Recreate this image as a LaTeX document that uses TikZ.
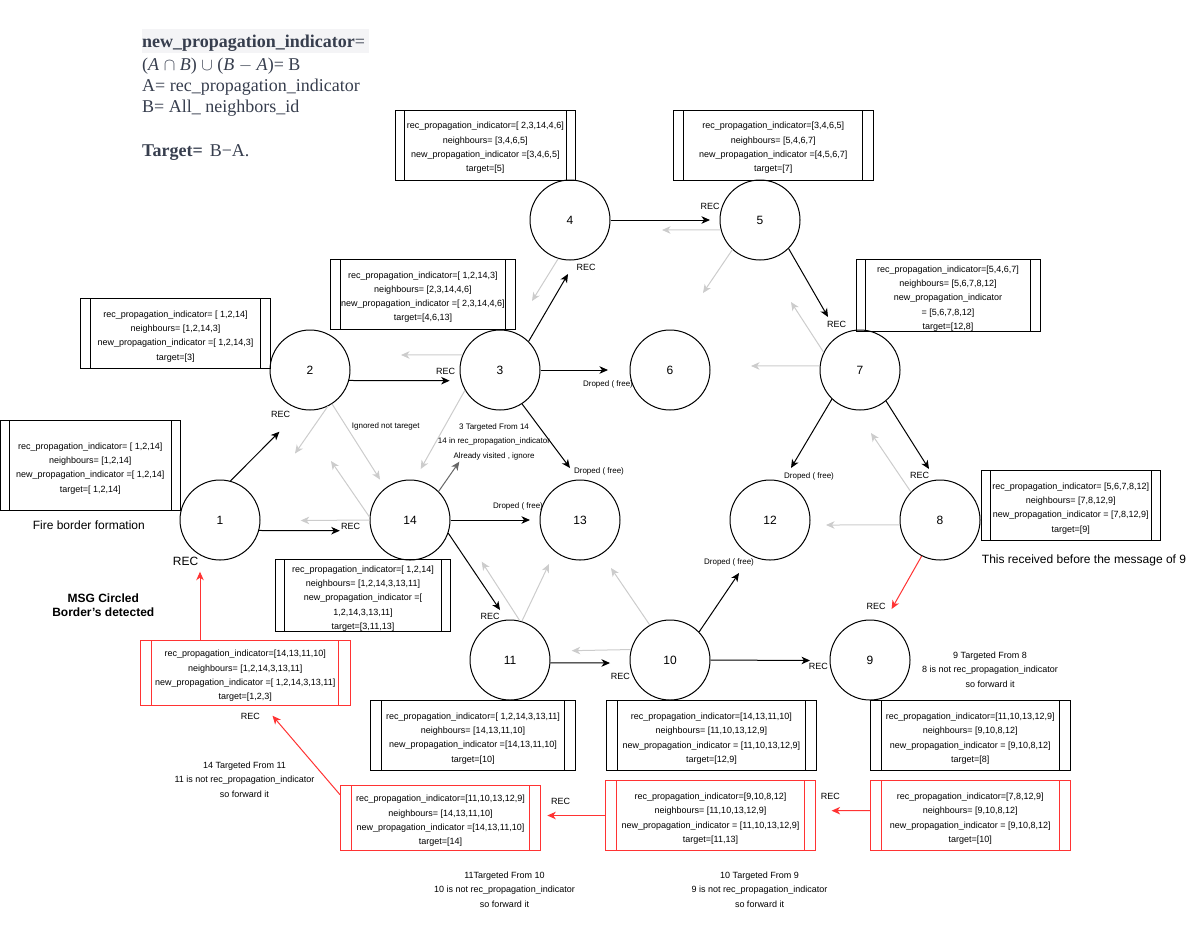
\documentclass[tikz,border=0pt]{standalone}
\usepackage{fontspec}
\setmainfont{Liberation Sans}
\newfontfamily\serifx{Liberation Serif}
\usetikzlibrary{arrows.meta,calc}

\definecolor{redx}{RGB}{255,51,51}
\definecolor{lgray}{RGB}{204,204,204}
\definecolor{dgray}{RGB}{102,102,102}
\definecolor{formc}{RGB}{55,62,78}
\definecolor{formbg}{RGB}{244,244,246}

% centred block of lines for the state boxes, set slightly low in its box
\newcommand\bt[1]{\raisebox{-2.5pt}[\height][\depth]{\begin{tabular}{@{}c@{}}#1\end{tabular}}}

\begin{document}
\begin{tikzpicture}[x=1pt,y=-1pt,
  circ/.style={circle,draw,line width=1pt,minimum size=80pt,inner sep=0pt,font=\fontsize{12}{14}\selectfont},
  procbox/.style={draw=#1,line width=1pt,inner sep=0pt,font=\fontsize{9}{14.3}\selectfont,
    path picture={
      \draw[#1,line width=1pt]
        ($(path picture bounding box.north west)!0.053!(path picture bounding box.north east)$) --
        ($(path picture bounding box.south west)!0.053!(path picture bounding box.south east)$)
        ($(path picture bounding box.north west)!0.947!(path picture bounding box.north east)$) --
        ($(path picture bounding box.south west)!0.947!(path picture bounding box.south east)$);}},
  procbox/.default=black,
  sz/.style 2 args={minimum width=#1pt,minimum height=#2pt},
  arr/.style={line width=1pt,-{Stealth[length=8.5pt,width=7.5pt,inset=2.5pt]}},
  blk/.style={arr,draw=black},
  gry/.style={arr,draw=lgray},
  dgr/.style={arr,draw=dgray},
  rdd/.style={arr,draw=redx},
  rec/.style={inner sep=0pt,font=\fontsize{9}{11}\selectfont},
  drop/.style={inner sep=0pt,font=\fontsize{8}{10}\selectfont},
  smallnote/.style={inner sep=0pt,align=center,font=\fontsize{8}{14.7}\selectfont},
  note/.style={inner sep=0pt,align=center,font=\fontsize{9}{14.3}\selectfont},
  big/.style={inner sep=0pt,font=\fontsize{12}{14.6}\selectfont},
  form/.style={inner sep=0pt,anchor=base west,text=formc,font=\serifx\fontsize{18}{21.5}\selectfont}
]
\useasboundingbox (0,0) rectangle (1201,930);

% formula block
\fill[formbg] (141.7,29.3) rectangle (369,52.7);
\node[form] (f1) at (142,47.5) {{\bfseries new\_propagation\_indicator}=};
\node[form] (f2) at (142,70) {(\textit{A} $\cap$ \textit{B}) $\cup$ (\textit{B} $-$ \textit{A})= B};
\node[form] (f3) at (142,91.5) {A= rec\_propagation\_indicator};
\node[form] (f4) at (142,112.5) {B= All\_ neighbors\_id};
\node[form] (f5) at (142,156) {{\bfseries Target=}\hspace{7pt}B−A.};

% nodes of the network
\node[circ] (n1)  at (220,520) {1};
\node[circ] (n2)  at (310,370) {2};
\node[circ] (n3)  at (500,370) {3};
\node[circ] (n4)  at (570,220) {4};
\node[circ] (n5)  at (760,220) {5};
\node[circ] (n6)  at (670,370) {6};
\node[circ] (n7)  at (860,370) {7};
\node[circ] (n14) at (410,520) {14};
\node[circ] (n13) at (580,520) {13};
\node[circ] (n12) at (770,520) {12};
\node[circ] (n8)  at (940,520) {8};
\node[circ] (n11) at (510,660) {11};
\node[circ] (n10) at (670,660) {10};
\node[circ] (n9)  at (870,660) {9};

% state boxes
\node[procbox,sz={180.6}{89.3}] (b1) at (90.3,465.35)
  {\bt{rec\_propagation\_indicator= [ 1,2,14]\\neighbours= [1,2,14]\\new\_propagation\_indicator =[ 1,2,14]\\target=[ 1,2,14]}};
\node[procbox,sz={190.2}{70}] (b2) at (175.5,333.3)
  {\bt{rec\_propagation\_indicator= [ 1,2,14]\\neighbours= [1,2,14,3]\\new\_propagation\_indicator =[ 1,2,14,3]\\target=[3]}};
\node[procbox,sz={185.2}{69.7}] (b3) at (422.9,294.15)
  {\bt{rec\_propagation\_indicator=[ 1,2,14,3]\\neighbours= [2,3,14,4,6]\\new\_propagation\_indicator =[ 2,3,14,4,6]\\target=[4,6,13]}};
\node[procbox,sz={180.7}{70}] (b4) at (485.35,145)
  {\bt{rec\_propagation\_indicator=[ 2,3,14,4,6]\\neighbours= [3,4,6,5]\\new\_propagation\_indicator =[3,4,6,5]\\target=[5]}};
\node[procbox,sz={200}{70}] (b5) at (773.3,145)
  {\bt{rec\_propagation\_indicator=[3,4,6,5]\\neighbours= [5,4,6,7]\\new\_propagation\_indicator =[4,5,6,7]\\target=[7]}};
\node[procbox,sz={184}{69.3}] (b7) at (948,295.35)
  {\bt{rec\_propagation\_indicator=[5,4,6,7]\\neighbours= [5,6,7,8,12]\\new\_propagation\_indicator\\= [5,6,7,8,12]\\target=[12,8]}};
\node[procbox,sz={179.6}{69.3}] (b8) at (1070.8,505.35)
  {\bt{rec\_propagation\_indicator= [5,6,7,8,12]\\neighbours= [7,8,12,9]\\new\_propagation\_indicator = [7,8,12,9]\\target=[9]}};
\node[procbox,sz={174.9}{69.3}] (b14) at (362.95,595.35)
  {\bt{rec\_propagation\_indicator=[ 1,2,14]\\neighbours= [1,2,14,3,13,11]\\new\_propagation\_indicator =[\\1,2,14,3,13,11]\\target=[3,11,13]}};
\node[procbox=redx,sz={209.5}{64.6}] (rb1) at (245.25,673)
  {\bt{rec\_propagation\_indicator=[14,13,11,10]\\neighbours= [1,2,14,3,13,11]\\new\_propagation\_indicator =[ 1,2,14,3,13,11]\\target=[1,2,3]}};
\node[procbox,sz={205.1}{70}] (b11) at (473.05,735.3)
  {\bt{rec\_propagation\_indicator=[ 1,2,14,3,13,11]\\neighbours= [14,13,11,10]\\new\_propagation\_indicator =[14,13,11,10]\\target=[10]}};
\node[procbox,sz={210}{69.6}] (b10) at (711.4,735.5)
  {\bt{rec\_propagation\_indicator=[14,13,11,10]\\neighbours= [11,10,13,12,9]\\new\_propagation\_indicator = [11,10,13,12,9]\\target=[12,9]}};
\node[procbox,sz={199.4}{69.6}] (b9) at (970.3,735.5)
  {\bt{rec\_propagation\_indicator=[11,10,13,12,9]\\neighbours= [9,10,8,12]\\new\_propagation\_indicator = [9,10,8,12]\\target=[8]}};
\node[procbox=redx,sz={199.8}{65}] (rb14) at (440.5,817.8)
  {\bt{rec\_propagation\_indicator=[11,10,13,12,9]\\neighbours= [14,13,11,10]\\new\_propagation\_indicator =[14,13,11,10]\\target=[14]}};
\node[procbox=redx,sz={209.7}{69.6}] (rb1113) at (710.45,815.5)
  {\bt{rec\_propagation\_indicator=[9,10,8,12]\\neighbours= [11,10,13,12,9]\\new\_propagation\_indicator = [11,10,13,12,9]\\target=[11,13]}};
\node[procbox=redx,sz={199.4}{69.6}] (rb10) at (970.3,815.5)
  {\bt{rec\_propagation\_indicator=[7,8,12,9]\\neighbours= [9,10,8,12]\\new\_propagation\_indicator = [9,10,8,12]\\target=[10]}};

% free ends of the message arrows
\coordinate (e1) at (279.4,431.7);
\coordinate (e2) at (339.8,530.7);
\coordinate (e3) at (449.7,380.7);
\coordinate (e4) at (568,274);
\coordinate (e5) at (608,370);
\coordinate (e6) at (570,468);
\coordinate (e7) at (710,220);
\coordinate (e8) at (828,317);
\coordinate (e9) at (791,468);
\coordinate (e10) at (929,469);
\coordinate (e11) at (530,520);
\coordinate (e12) at (500,610);
\coordinate (e13) at (459.3,461.7);
\coordinate (e14) at (610,663);
\coordinate (e15) at (739,573);
\coordinate (e16) at (810,660.5);

\coordinate (g1) at (295,453.5);
\coordinate (g2) at (380,479.5);
\coordinate (g3) at (331,461);
\coordinate (g4) at (300.7,520.5);
\coordinate (g5) at (401,355);
\coordinate (g6) at (420.7,469);
\coordinate (g7) at (532,301);
\coordinate (g8) at (662,230);
\coordinate (g9) at (703,293);
\coordinate (g10) at (791,302);
\coordinate (g11) at (751,366);
\coordinate (g12) at (871,433);
\coordinate (g13) at (826,525);
\coordinate (g14) at (481.7,561.7);
\coordinate (g15) at (549,564);
\coordinate (g16) at (611,568);
\coordinate (g17) at (571.7,650.7);

\coordinate (r1) at (891.6,609);
\coordinate (r2) at (200,571.7);
\coordinate (r3) at (272.5,715.7);
\coordinate (r4) at (547.3,815.5);
\coordinate (r5) at (831.6,810.7);

% forwarded messages
\draw[blk] (n1.75) -- (e1);
\draw[blk] (n1.-15) -- (e2);
\draw[blk] (n2.-15) -- (e3);
\draw[blk] (n3.45) -- (e4);
\draw[blk] (n3.0) -- (e5);
\draw[blk] (n3.-57) -- (e6);
\draw[blk] (n4.0) -- (e7);
\draw[blk] (n5.-45) -- (e8);
\draw[blk] (n7.-134) -- (e9);
\draw[blk] (n7.-50) -- (e10);
\draw[blk] (n14.0) -- (e11);
\draw[blk] (n14.-19) -- (e12);
\draw[dgr] (n14.45) -- (e13);
\draw[blk] (n11.-4) -- (e14);
\draw[blk] (n10.44) -- (e15);
\draw[blk] (n10.0) -- (e16);

% ignored messages
\draw[gry] (n2.-64) -- (g1);
\draw[gry] (n2.-57) -- (g2);
\draw[gry] (n14.176) -- (g3);
\draw[gry] (n14.180) -- (g4);
\draw[gry] (n3.158) -- (g5);
\draw[gry] (n3.-150) -- (g6);
\draw[gry] (n4.-107) -- (g7);
\draw[gry] (n5.-166) -- (g8);
\draw[gry] (n5.-133) -- (g9);
\draw[gry] (n7.154) -- (g10);
\draw[gry] (n7.174) -- (g11);
\draw[gry] (n8.136) -- (g12);
\draw[gry] (n8.-173) -- (g13);
\draw[gry] (n11.76) -- (g14);
\draw[gry] (n11.73) -- (g15);
\draw[gry] (n10.120) -- (g16);
\draw[gry] (n10.165) -- (g17);

% return path of the circled message
\draw[rdd] (n8.-117) -- (r1);
\draw[rdd] (r2 |- rb1.north) -- (r2);
\draw[rdd] ([yshift=-10pt]rb14.north west) -- (r3);
\draw[rdd] (rb1113.west) -- (r4);
\draw[rdd] ([yshift=5pt]rb10.west) -- (r5);

% REC labels
\node[rec] (l1) at (280.7,414) {REC};
\node[rec] (l2) at (350.5,526) {REC};
\node[rec] (l3) at (445.5,371) {REC};
\node[rec] (l4) at (586,267) {REC};
\node[rec] (l5) at (710,206) {REC};
\node[rec] (l7) at (836.5,324) {REC};
\node[rec] (l8) at (919.5,475) {REC};
\node[rec] (l9a) at (876,606) {REC};
\node[rec] (l11) at (490,616) {REC};
\node[rec] (l10) at (620.4,676) {REC};
\node[rec] (l9b) at (818.4,666) {REC};
\node[rec] (lrb1) at (250.3,716) {REC};
\node[rec] (lrb14) at (560.7,801) {REC};
\node[rec] (lrb1113) at (830.4,796) {REC};
\node[big] (lbig) at (185.6,561) {REC};

% dropped labels
\node[drop] (d6) at (608,384.7) {Droped ( free)};
\node[drop] (d13) at (599,471.7) {Droped ( free)};
\node[drop] (d14) at (518,506.7) {Droped ( free)};
\node[drop] (d12a) at (809,476.7) {Droped ( free)};
\node[drop] (d12b) at (729,562.7) {Droped ( free)};

% notes
\node[drop] (ign) at (385.7,426) {Ignored not tareget};
\node[smallnote] (tA) at (494,441.7) {3 Targeted From 14\\14 in rec\_propagation\_indicator\\Already visited , ignore};
\node[note] (tB) at (990,669.5) {9 Targeted From 8\\8 is not rec\_propagation\_indicator\\so forward it};
\node[note] (tC) at (244.5,779.5) {14 Targeted From 11\\11 is not rec\_propagation\_indicator\\so forward it};
\node[note] (tD) at (504.5,889.5) {11Targeted From 10\\10 is not rec\_propagation\_indicator\\so forward it};
\node[note] (tE) at (759.5,889.5) {10 Targeted From 9\\9 is not rec\_propagation\_indicator\\so forward it};

\node[big] (fire) at (88.8,525) {Fire border formation};
\node[big,align=center,font=\bfseries\fontsize{12}{14.6}\selectfont] (msg) at (103.3,605) {MSG Circled\\Border's detected};
\node[big] (recv) at (1084,560.7) {This received before the message of 9};
\end{tikzpicture}
\end{document}
